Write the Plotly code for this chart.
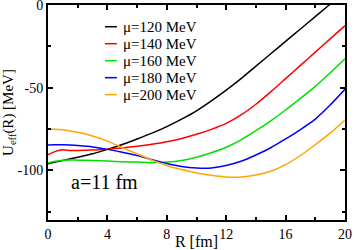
import plotly.graph_objects as go

# R grid [fm]
R = [0, 0.5, 1, 1.5, 2, 3, 4, 5, 6, 7, 8, 9, 10, 11, 12, 13, 14, 15, 16, 17, 18, 19, 20]

# U_eff(R) [MeV] for each mu
U_120 = [-96, -95, -94, -93, -92, -90, -87.3, -84.3, -81, -77.5, -73.5, -69, -64,
         -58, -51.5, -44.5, -37, -29.5, -22, -14.5, -7, 0.5, 9]
U_140 = [-90.5, -88.5, -87.5, -88, -88, -87.7, -87.2, -86.4, -85.4, -84.2, -82.7,
         -80.7, -78.2, -75.2, -71.6, -66.5, -60, -52.5, -44.5, -36.5, -28.5, -20.5, -12.5]
U_160 = [-95.5, -94.5, -93.8, -93.7, -93.8, -94, -94.4, -94.8, -95, -95.2, -95, -94,
         -92, -89.3, -86, -81.5, -76, -70, -63.5, -56.5, -49.2, -41, -32.5]
U_180 = [-84.6, -84.5, -84.5, -84.7, -85, -85.8, -87.3, -89, -91, -93.5, -95.8,
         -97.6, -98.5, -98.5, -97, -94.5, -90.7, -86.3, -81, -75.3, -69, -60.5, -51]
U_200 = [-75, -75.2, -75.5, -76.2, -77, -79.2, -82.3, -86.2, -90, -93.8, -97, -99.5,
         -101.6, -103, -104, -104, -102.8, -100.5, -96.5, -91, -84.5, -77.5, -69.5]

labels = ["\u03bc=120 MeV", "\u03bc=140 MeV", "\u03bc=160 MeV", "\u03bc=180 MeV", "\u03bc=200 MeV"]
series = [U_120, U_140, U_160, U_180, U_200]
colors = ["#000000", "#ff0000", "#00e000", "#0000ff", "#ffa500"]

x_ticks = [0, 4, 8, 12, 16, 20]
y_ticks = [0, -50, -100]
y_ticktext = ["0", "-50", "-100"]

FONT = "Liberation Serif, Times New Roman, serif"

fig = go.Figure()

for name, vals, col in zip(labels, series, colors):
    fig.add_trace(
        go.Scatter(
            x=R,
            y=vals,
            name=name,
            mode="lines",
            line=dict(color=col, width=1.5, shape="spline", smoothing=0.6),
        )
    )

# hand-made legend (short line + label), like the original figure
for i, (name, col) in enumerate(zip(labels, colors)):
    yp = 0.899 - i * 0.079
    fig.add_shape(
        type="line", xref="paper", yref="paper",
        x0=0.192, x1=0.232, y0=yp, y1=yp,
        line=dict(color=col, width=1.5),
    )
    fig.add_annotation(
        xref="paper", yref="paper", x=0.245, y=yp,
        text=name, showarrow=False, xanchor="left", yanchor="middle",
        font=dict(size=15, color="black", family=FONT),
    )

fig.add_annotation(
    xref="paper", yref="paper", x=0.07, y=0.175,
    text="a=11 fm", showarrow=False, xanchor="left", yanchor="middle",
    font=dict(size=20, color="black", family=FONT),
)

axis_common = dict(
    showline=True,
    linecolor="black",
    linewidth=2,
    mirror="ticks",
    ticks="inside",
    ticklen=5,
    tickwidth=1.5,
    tickcolor="black",
    showgrid=False,
    zeroline=False,
    automargin=False,
    ticklabeloverflow="allow",
    tickfont=dict(size=14, color="black", family=FONT),
)

fig.update_xaxes(
    range=[0, 20],
    tickvals=x_ticks,
    title=dict(text="R [fm]", font=dict(size=16, color="black", family=FONT), standoff=2),
    minor=dict(ticks="inside", dtick=2, ticklen=3, tickcolor="black", tickwidth=1.5),
    **axis_common,
)
fig.update_yaxes(
    range=[-130, 0],
    tickvals=y_ticks,
    ticktext=y_ticktext,
    title=dict(text="U<sub>eff</sub>(R) [MeV]", font=dict(size=15, color="black", family=FONT), standoff=2),
    minor=dict(ticks="inside", dtick=25, ticklen=3, tickcolor="black", tickwidth=1.5),
    **axis_common,
)

fig.update_layout(
    width=354,
    height=250,
    margin=dict(l=48, r=9, t=5, b=30),
    showlegend=False,
    plot_bgcolor="white",
    paper_bgcolor="white",
    font=dict(family=FONT, color="black"),
)

fig.write_html(
    "out.html",
    config={"displayModeBar": False},
    post_script="document.body.style.margin='0';",
)
